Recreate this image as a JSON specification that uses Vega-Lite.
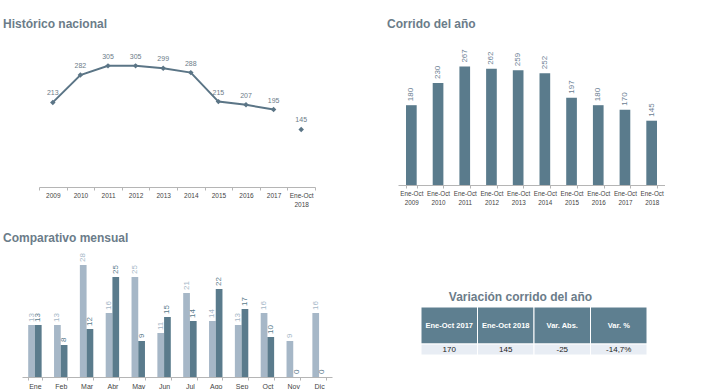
{
  "$schema": "https://vega.github.io/schema/vega-lite/v6.json",
  "padding": {"left": 3, "top": 18, "right": 0, "bottom": 0},
  "background": "white",
  "bounds": "flush",
  "align": "none",
  "columns": 2,
  "spacing": {"row": 0, "column": 60},
  "config": {
    "view": {"stroke": null},
    "font": "Liberation Sans",
    "title": {"fontSize": 12, "fontWeight": "bold", "color": "#6b7c89", "anchor": "start", "baseline": "alphabetic", "font": "Liberation Sans"},
    "axis": {"grid": false, "domainColor": "#b5b5b5", "tickColor": "#b5b5b5", "tickSize": 3, "labelFontSize": 7, "labelColor": "#444444", "labelFont": "Liberation Sans", "labelAngle": 0, "labelPadding": 2, "labelLineHeight": 9, "title": null, "tickBand": "extent", "labelOverlap": false, "labelBound": false}
  },
  "datasets": {
    "historico": [
      {"periodo": "2009", "valor": 213, "serie": "anual"},
      {"periodo": "2010", "valor": 282, "serie": "anual"},
      {"periodo": "2011", "valor": 305, "serie": "anual"},
      {"periodo": "2012", "valor": 305, "serie": "anual"},
      {"periodo": "2013", "valor": 299, "serie": "anual"},
      {"periodo": "2014", "valor": 288, "serie": "anual"},
      {"periodo": "2015", "valor": 215, "serie": "anual"},
      {"periodo": "2016", "valor": 207, "serie": "anual"},
      {"periodo": "2017", "valor": 195, "serie": "anual"},
      {"periodo": "Ene-Oct 2018", "valor": 145, "serie": "parcial"}
    ],
    "corrido": [
      {"periodo": "Ene-Oct 2009", "valor": 180},
      {"periodo": "Ene-Oct 2010", "valor": 230},
      {"periodo": "Ene-Oct 2011", "valor": 267},
      {"periodo": "Ene-Oct 2012", "valor": 262},
      {"periodo": "Ene-Oct 2013", "valor": 259},
      {"periodo": "Ene-Oct 2014", "valor": 252},
      {"periodo": "Ene-Oct 2015", "valor": 197},
      {"periodo": "Ene-Oct 2016", "valor": 180},
      {"periodo": "Ene-Oct 2017", "valor": 170},
      {"periodo": "Ene-Oct 2018", "valor": 145}
    ],
    "mensual": [
      {"mes": "Ene", "serie": "2017", "valor": 13}, {"mes": "Ene", "serie": "2018", "valor": 13},
      {"mes": "Feb", "serie": "2017", "valor": 13}, {"mes": "Feb", "serie": "2018", "valor": 8},
      {"mes": "Mar", "serie": "2017", "valor": 28}, {"mes": "Mar", "serie": "2018", "valor": 12},
      {"mes": "Abr", "serie": "2017", "valor": 16}, {"mes": "Abr", "serie": "2018", "valor": 25},
      {"mes": "May", "serie": "2017", "valor": 25}, {"mes": "May", "serie": "2018", "valor": 9},
      {"mes": "Jun", "serie": "2017", "valor": 11}, {"mes": "Jun", "serie": "2018", "valor": 15},
      {"mes": "Jul", "serie": "2017", "valor": 21}, {"mes": "Jul", "serie": "2018", "valor": 14},
      {"mes": "Ago", "serie": "2017", "valor": 14}, {"mes": "Ago", "serie": "2018", "valor": 22},
      {"mes": "Sep", "serie": "2017", "valor": 13}, {"mes": "Sep", "serie": "2018", "valor": 17},
      {"mes": "Oct", "serie": "2017", "valor": 16}, {"mes": "Oct", "serie": "2018", "valor": 10},
      {"mes": "Nov", "serie": "2017", "valor": 9}, {"mes": "Nov", "serie": "2018", "valor": 0},
      {"mes": "Dic", "serie": "2017", "valor": 16}, {"mes": "Dic", "serie": "2018", "valor": 0}
    ],
    "tabla": [
      {"col": "Ene-Oct 2017", "valor": "170"},
      {"col": "Ene-Oct 2018", "valor": "145"},
      {"col": "Var. Abs.", "valor": "-25"},
      {"col": "Var. %", "valor": "-14,7%"}
    ]
  },
  "concat": [
    {
      "width": 293, "height": 139,
      "title": {"text": "Histórico nacional", "dx": -19, "offset": 17},
      "data": {"name": "historico"},
      "encoding": {
        "x": {"field": "periodo", "type": "nominal", "sort": null, "scale": {"type": "band", "paddingInner": 0, "paddingOuter": 0, "range": [17, 293]}, "axis": {"labelExpr": "split(datum.label, ' ')", "labelFontSize": 6.5}},
        "y": {"field": "valor", "type": "quantitative", "scale": {"domain": [0, 350], "nice": false}, "axis": null}
      },
      "layer": [
        {"mark": {"type": "line", "color": "#5b7586", "strokeWidth": 2}, "encoding": {"detail": {"field": "serie"}}},
        {"mark": {"type": "point", "shape": "diamond", "filled": true, "size": 30, "color": "#5b7586", "opacity": 1}},
        {"mark": {"type": "text", "dy": -9, "fontSize": 7, "color": "#6c7c88"}, "encoding": {"text": {"field": "valor"}}}
      ]
    },
    {
      "width": 267, "height": 137,
      "title": {"text": "Corrido del año", "dx": -11, "offset": 17},
      "data": {"name": "corrido"},
      "encoding": {
        "x": {"field": "periodo", "type": "nominal", "sort": null, "scale": {"paddingInner": 0.6, "paddingOuter": 0.3}, "axis": {"labelExpr": "split(datum.label, ' ')", "labelFontSize": 6.3}},
        "y": {"field": "valor", "type": "quantitative", "scale": {"domain": [0, 309], "nice": false}, "axis": null}
      },
      "layer": [
        {"mark": {"type": "bar", "color": "#5a7b8c"}},
        {"mark": {"type": "text", "angle": 270, "align": "left", "baseline": "middle", "dx": 4, "fontSize": 8, "color": "#6b8093"}, "encoding": {"text": {"field": "valor"}}}
      ]
    },
    {"width": 293, "height": 70, "data": {"values": []}, "mark": "point", "encoding": {}},
    {"width": 249, "height": 70, "data": {"values": []}, "mark": "point", "encoding": {}},
    {
      "width": 316, "height": 120,
      "title": {"text": "Comparativo mensual", "dx": -19, "offset": 8},
      "data": {"name": "mensual"},
      "encoding": {
        "x": {"field": "mes", "type": "nominal", "sort": null, "scale": {"paddingInner": 0.48, "paddingOuter": 0.24, "range": [0, 310]}, "axis": {"labelFontSize": 7}},
        "xOffset": {"field": "serie", "type": "nominal", "scale": {"paddingInner": 0, "paddingOuter": 0}},
        "y": {"field": "valor", "type": "quantitative", "scale": {"domain": [0, 30], "nice": false}, "axis": null},
        "color": {"field": "serie", "type": "nominal", "scale": {"domain": ["2017", "2018"], "range": ["#a6b7c7", "#5a7b8c"]}, "legend": null}
      },
      "layer": [
        {"mark": {"type": "bar"}},
        {"mark": {"type": "text", "angle": 270, "align": "left", "baseline": "middle", "dx": 3, "fontSize": 8}, "encoding": {"text": {"field": "valor"}}}
      ]
    },
    {
      "width": 249, "height": 98,
      "title": {"text": "Variación corrido del año", "anchor": "middle", "dx": -2, "offset": -47},
      "data": {"name": "tabla"},
      "encoding": {
        "x": {"field": "col", "type": "nominal", "sort": null, "scale": {"paddingInner": 0, "paddingOuter": 0, "range": [23, 249]}, "axis": null}
      },
      "layer": [
        {
          "encoding": {"y": {"datum": "Encabezado", "type": "nominal", "scale": {"range": [50, 87], "paddingInner": 0, "paddingOuter": 0}, "axis": null}},
          "layer": [
            {"mark": {"type": "rect", "color": "#5e7f90", "stroke": "white", "strokeWidth": 1}},
            {"mark": {"type": "text", "color": "white", "fontWeight": "bold", "fontSize": 7.5}, "encoding": {"text": {"field": "col"}}}
          ]
        },
        {
          "encoding": {"y": {"datum": "Datos", "type": "nominal", "scale": {"range": [87, 98], "paddingInner": 0, "paddingOuter": 0}, "axis": null}},
          "layer": [
            {"mark": {"type": "rect", "color": "#e8edf4", "stroke": "white", "strokeWidth": 1}},
            {"mark": {"type": "text", "color": "#222222", "fontSize": 8}, "encoding": {"text": {"field": "valor"}}}
          ]
        }
      ],
      "resolve": {"scale": {"y": "independent"}}
    }
  ]
}
